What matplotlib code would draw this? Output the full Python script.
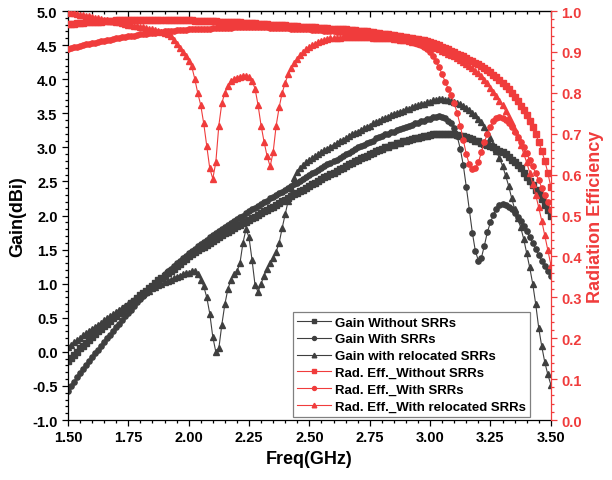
import numpy as np
import matplotlib
matplotlib.use("Agg")
import matplotlib.pyplot as plt
from matplotlib.ticker import MultipleLocator, FormatStrFormatter

plt.rcParams['font.family'] = ['Liberation Sans', 'DejaVu Sans']
plt.rcParams['font.weight'] = 'bold'

# frequency sweep 1.5 - 3.5 GHz, 161 points
freq = np.round(1.5 + 0.0125 * np.arange(161), 4)

gain_without = [
    -0.13, -0.09, -0.04, 0.00, 0.05, 0.09, 0.13, 0.18,
    0.22, 0.26, 0.30, 0.34, 0.38, 0.41, 0.45, 0.49,
    0.53, 0.57, 0.60, 0.64, 0.68, 0.72, 0.75, 0.79,
    0.83, 0.87, 0.90, 0.94, 0.97, 1.01, 1.05, 1.08,
    1.12, 1.15, 1.19, 1.22, 1.26, 1.29, 1.33, 1.36,
    1.40, 1.43, 1.46, 1.49, 1.52, 1.54, 1.57, 1.60,
    1.63, 1.66, 1.68, 1.71, 1.74, 1.76, 1.79, 1.81,
    1.84, 1.86, 1.89, 1.91, 1.94, 1.96, 1.98, 2.01,
    2.03, 2.06, 2.08, 2.11, 2.13, 2.16, 2.18, 2.21,
    2.23, 2.26, 2.28, 2.31, 2.33, 2.36, 2.38, 2.41,
    2.43, 2.46, 2.48, 2.51, 2.53, 2.56, 2.58, 2.61,
    2.63, 2.65, 2.68, 2.70, 2.73, 2.75, 2.77, 2.80,
    2.82, 2.84, 2.86, 2.88, 2.90, 2.92, 2.94, 2.96,
    2.98, 3.00, 3.01, 3.03, 3.04, 3.06, 3.07, 3.09,
    3.10, 3.11, 3.12, 3.13, 3.14, 3.15, 3.16, 3.17,
    3.18, 3.19, 3.19, 3.20, 3.20, 3.20, 3.20, 3.19,
    3.19, 3.18, 3.17, 3.16, 3.15, 3.13, 3.12, 3.10,
    3.09, 3.07, 3.05, 3.03, 3.02, 3.00, 2.98, 2.95,
    2.93, 2.90, 2.86, 2.82, 2.78, 2.74, 2.69, 2.63,
    2.57, 2.51, 2.45, 2.38, 2.31, 2.24, 2.16, 2.08,
    2.00]

gain_with = [
    -0.57, -0.50, -0.44, -0.37, -0.31, -0.25, -0.19, -0.14,
    -0.08, -0.02, 0.03, 0.09, 0.14, 0.20, 0.25, 0.31,
    0.36, 0.41, 0.47, 0.52, 0.57, 0.62, 0.68, 0.73,
    0.78, 0.82, 0.87, 0.91, 0.96, 1.00, 1.05, 1.09,
    1.14, 1.18, 1.22, 1.26, 1.30, 1.33, 1.37, 1.41,
    1.45, 1.48, 1.51, 1.55, 1.58, 1.61, 1.64, 1.68,
    1.71, 1.74, 1.77, 1.80, 1.83, 1.86, 1.89, 1.92,
    1.95, 1.98, 2.00, 2.03, 2.06, 2.09, 2.11, 2.14,
    2.17, 2.20, 2.22, 2.25, 2.27, 2.30, 2.33, 2.35,
    2.38, 2.41, 2.43, 2.46, 2.48, 2.51, 2.54, 2.56,
    2.59, 2.62, 2.64, 2.67, 2.69, 2.72, 2.75, 2.77,
    2.80, 2.82, 2.85, 2.87, 2.90, 2.92, 2.95, 2.97,
    3.00, 3.02, 3.04, 3.06, 3.08, 3.10, 3.13, 3.15,
    3.17, 3.19, 3.20, 3.22, 3.23, 3.25, 3.27, 3.28,
    3.30, 3.32, 3.33, 3.35, 3.36, 3.38, 3.39, 3.41,
    3.42, 3.44, 3.45, 3.46, 3.45, 3.43, 3.39, 3.35,
    3.29, 3.16, 2.98, 2.74, 2.42, 2.08, 1.75, 1.48,
    1.34, 1.38, 1.56, 1.76, 1.90, 2.01, 2.10, 2.15,
    2.17, 2.16, 2.13, 2.09, 2.04, 1.98, 1.92, 1.85,
    1.77, 1.69, 1.60, 1.51, 1.42, 1.34, 1.26, 1.19,
    1.12]

gain_reloc = [
    0.07, 0.10, 0.14, 0.17, 0.20, 0.24, 0.27, 0.30,
    0.34, 0.37, 0.40, 0.43, 0.46, 0.49, 0.52, 0.55,
    0.58, 0.61, 0.64, 0.67, 0.70, 0.73, 0.76, 0.79,
    0.82, 0.85, 0.88, 0.90, 0.93, 0.95, 0.98, 1.00,
    1.02, 1.04, 1.06, 1.08, 1.10, 1.12, 1.14, 1.15,
    1.16, 1.19, 1.19, 1.14, 1.06, 0.96, 0.80, 0.56,
    0.22, 0.00, 0.05, 0.40, 0.70, 0.92, 1.06, 1.14,
    1.18, 1.30, 1.60, 1.80, 1.68, 1.35, 0.98, 0.88,
    1.00, 1.12, 1.22, 1.30, 1.38, 1.47, 1.60, 1.82,
    2.02, 2.22, 2.40, 2.55, 2.64, 2.70, 2.74, 2.78,
    2.81, 2.84, 2.87, 2.90, 2.93, 2.96, 2.98, 3.01,
    3.04, 3.06, 3.09, 3.11, 3.14, 3.16, 3.19, 3.21,
    3.23, 3.26, 3.28, 3.30, 3.32, 3.35, 3.37, 3.39,
    3.41, 3.43, 3.45, 3.47, 3.49, 3.51, 3.52, 3.54,
    3.56, 3.57, 3.59, 3.60, 3.62, 3.63, 3.64, 3.66,
    3.67, 3.69, 3.70, 3.71, 3.71, 3.70, 3.69, 3.68,
    3.66, 3.65, 3.63, 3.61, 3.58, 3.55, 3.51, 3.47,
    3.42, 3.37, 3.30, 3.22, 3.13, 3.04, 2.94, 2.84,
    2.73, 2.59, 2.44, 2.26, 2.10, 1.96, 1.83, 1.66,
    1.45, 1.24, 1.00, 0.70, 0.35, 0.08, -0.15, -0.33,
    -0.48]

eff_without = [
    0.968, 0.969, 0.969, 0.970, 0.971, 0.971, 0.972, 0.972,
    0.973, 0.973, 0.974, 0.974, 0.975, 0.975, 0.976, 0.976,
    0.977, 0.977, 0.977, 0.977, 0.978, 0.978, 0.978, 0.978,
    0.978, 0.978, 0.978, 0.978, 0.978, 0.978, 0.978, 0.978,
    0.978, 0.978, 0.978, 0.977, 0.977, 0.977, 0.977, 0.977,
    0.977, 0.977, 0.976, 0.976, 0.976, 0.976, 0.975, 0.975,
    0.975, 0.975, 0.974, 0.974, 0.974, 0.973, 0.973, 0.972,
    0.972, 0.972, 0.971, 0.971, 0.970, 0.970, 0.970, 0.969,
    0.969, 0.968, 0.968, 0.967, 0.967, 0.966, 0.966, 0.965,
    0.965, 0.964, 0.964, 0.963, 0.963, 0.962, 0.962, 0.961,
    0.961, 0.960, 0.960, 0.959, 0.959, 0.958, 0.958, 0.957,
    0.957, 0.956, 0.956, 0.955, 0.955, 0.954, 0.953, 0.953,
    0.952, 0.951, 0.950, 0.950, 0.949, 0.948, 0.947, 0.946,
    0.945, 0.944, 0.943, 0.942, 0.941, 0.940, 0.938, 0.937,
    0.936, 0.935, 0.933, 0.932, 0.931, 0.929, 0.928, 0.926,
    0.925, 0.922, 0.919, 0.916, 0.913, 0.910, 0.907, 0.903,
    0.900, 0.896, 0.893, 0.889, 0.885, 0.881, 0.877, 0.874,
    0.870, 0.865, 0.860, 0.855, 0.850, 0.844, 0.838, 0.831,
    0.825, 0.817, 0.809, 0.800, 0.790, 0.780, 0.769, 0.757,
    0.745, 0.731, 0.716, 0.699, 0.680, 0.658, 0.634, 0.605,
    0.570]

eff_with = [
    0.907, 0.909, 0.911, 0.913, 0.915, 0.917, 0.919, 0.920,
    0.921, 0.923, 0.924, 0.926, 0.927, 0.929, 0.930, 0.932,
    0.933, 0.934, 0.936, 0.937, 0.938, 0.939, 0.940, 0.942,
    0.943, 0.944, 0.945, 0.946, 0.947, 0.947, 0.948, 0.949,
    0.950, 0.951, 0.951, 0.952, 0.953, 0.953, 0.954, 0.954,
    0.955, 0.955, 0.956, 0.956, 0.956, 0.957, 0.957, 0.957,
    0.958, 0.958, 0.958, 0.959, 0.959, 0.959, 0.959, 0.960,
    0.960, 0.960, 0.960, 0.960, 0.960, 0.960, 0.960, 0.960,
    0.960, 0.960, 0.960, 0.959, 0.959, 0.959, 0.959, 0.958,
    0.958, 0.958, 0.957, 0.957, 0.957, 0.956, 0.956, 0.955,
    0.955, 0.954, 0.954, 0.953, 0.953, 0.952, 0.951, 0.951,
    0.950, 0.949, 0.949, 0.948, 0.947, 0.946, 0.945, 0.945,
    0.944, 0.943, 0.942, 0.941, 0.940, 0.940, 0.939, 0.938,
    0.937, 0.936, 0.935, 0.934, 0.933, 0.932, 0.930, 0.929,
    0.928, 0.927, 0.925, 0.923, 0.920, 0.917, 0.913, 0.907,
    0.900, 0.890, 0.877, 0.862, 0.845, 0.827, 0.810, 0.795,
    0.775, 0.750, 0.720, 0.685, 0.650, 0.625, 0.613, 0.615,
    0.630, 0.655, 0.680, 0.700, 0.717, 0.730, 0.738, 0.740,
    0.738, 0.733, 0.725, 0.716, 0.705, 0.693, 0.680, 0.667,
    0.652, 0.636, 0.620, 0.603, 0.586, 0.568, 0.550, 0.532,
    0.514]

eff_reloc = [
    0.997, 0.996, 0.994, 0.993, 0.991, 0.990, 0.988, 0.987,
    0.985, 0.984, 0.982, 0.981, 0.979, 0.978, 0.976, 0.975,
    0.973, 0.972, 0.970, 0.969, 0.967, 0.966, 0.964, 0.963,
    0.961, 0.960, 0.958, 0.957, 0.955, 0.953, 0.951, 0.949,
    0.947, 0.944, 0.940, 0.930, 0.920, 0.910, 0.900, 0.890,
    0.878, 0.865, 0.835, 0.800, 0.770, 0.725, 0.670, 0.615,
    0.590, 0.630, 0.720, 0.775, 0.800, 0.817, 0.828, 0.834,
    0.837, 0.839, 0.840, 0.840, 0.838, 0.830, 0.810, 0.770,
    0.720, 0.680, 0.645, 0.620, 0.655, 0.720, 0.765, 0.800,
    0.825, 0.845, 0.860, 0.873, 0.883, 0.892, 0.900, 0.907,
    0.912, 0.916, 0.920, 0.924, 0.927, 0.929, 0.931, 0.933,
    0.934, 0.935, 0.935, 0.936, 0.936, 0.936, 0.936, 0.936,
    0.936, 0.936, 0.936, 0.936, 0.936, 0.935, 0.935, 0.935,
    0.935, 0.934, 0.933, 0.933, 0.932, 0.931, 0.930, 0.929,
    0.928, 0.927, 0.925, 0.924, 0.922, 0.920, 0.918, 0.917,
    0.915, 0.912, 0.909, 0.906, 0.903, 0.900, 0.896, 0.893,
    0.890, 0.886, 0.881, 0.876, 0.871, 0.866, 0.860, 0.854,
    0.848, 0.840, 0.832, 0.823, 0.813, 0.803, 0.792, 0.781,
    0.770, 0.756, 0.741, 0.726, 0.710, 0.692, 0.673, 0.652,
    0.630, 0.605, 0.578, 0.550, 0.520, 0.487, 0.452, 0.416,
    0.380]

gray = '#3F3F3F'
red = '#F03C3C'

fig = plt.figure(figsize=(6.12, 4.81), dpi=100)
ax = fig.add_axes([0.111, 0.1247, 0.789, 0.8503])
ax2 = ax.twinx()

ax.plot(freq, gain_without, color=gray, lw=0.8, marker='s', ms=3.8, label='Gain Without SRRs')
ax.plot(freq, gain_with, color=gray, lw=0.8, marker='o', ms=3.8, label='Gain With SRRs')
ax.plot(freq, gain_reloc, color=gray, lw=0.8, marker='^', ms=4.4, label='Gain with relocated SRRs')

ax2.plot(freq, eff_without, color=red, lw=0.8, marker='s', ms=3.8, label='Rad. Eff._Without SRRs')
ax2.plot(freq, eff_with, color=red, lw=0.8, marker='o', ms=3.8, label='Rad. Eff._With SRRs')
ax2.plot(freq, eff_reloc, color=red, lw=0.8, marker='^', ms=4.4, label='Rad. Eff._With relocated SRRs')

ax.set_xlim(1.5, 3.5)
ax.set_ylim(-1.0, 5.0)
ax2.set_ylim(0.0, 1.0)

ax.xaxis.set_major_locator(MultipleLocator(0.25))
ax.xaxis.set_minor_locator(MultipleLocator(0.05))
ax.xaxis.set_major_formatter(FormatStrFormatter('%.2f'))
ax.yaxis.set_major_locator(MultipleLocator(0.5))
ax.yaxis.set_minor_locator(MultipleLocator(0.1))
ax.yaxis.set_major_formatter(FormatStrFormatter('%.1f'))
ax2.yaxis.set_major_locator(MultipleLocator(0.1))
ax2.yaxis.set_minor_locator(MultipleLocator(0.02))
ax2.yaxis.set_major_formatter(FormatStrFormatter('%.1f'))

ax.tick_params(which='both', direction='out', labelsize=10.5, width=0.9)
ax.tick_params(which='major', length=4)
ax.tick_params(which='minor', length=2.5)
ax2.tick_params(which='both', direction='out', colors=red, labelsize=10.5, width=0.9)
ax2.tick_params(which='major', length=4)
ax2.tick_params(which='minor', length=2.5)

top = ax.secondary_xaxis('top')
top.xaxis.set_major_locator(MultipleLocator(0.25))
top.xaxis.set_minor_locator(MultipleLocator(0.05))
top.tick_params(which='both', direction='in', labeltop=False, width=0.9)
top.tick_params(which='major', length=4)
top.tick_params(which='minor', length=2.5)

ax.spines['right'].set_visible(False)
for s in ['left', 'top', 'bottom']:
    ax2.spines[s].set_visible(False)
ax2.spines['right'].set_color(red)
for s in ax.spines.values():
    s.set_linewidth(0.9)
ax2.spines['right'].set_linewidth(0.9)

ax.set_xlabel('Freq(GHz)', fontsize=13, fontweight='bold')
ax.set_ylabel('Gain(dBi)', fontsize=13, fontweight='bold')
ax2.set_ylabel('Radiation Efficiency', fontsize=13, fontweight='bold', color=red)

h1, l1 = ax.get_legend_handles_labels()
h2, l2 = ax2.get_legend_handles_labels()
leg = ax2.legend(h1 + h2, l1 + l2, loc='lower right', bbox_to_anchor=(0.957, 0.008),
                 borderaxespad=0, fancybox=False, framealpha=1, edgecolor='#808080',
                 prop={'weight': 'bold', 'size': 9.5}, handlelength=2.6, markerscale=0.75,
                 labelspacing=0.35, handletextpad=0.3, borderpad=0.3)
leg.get_frame().set_linewidth(0.9)

fig.savefig('out.png', dpi=100)
